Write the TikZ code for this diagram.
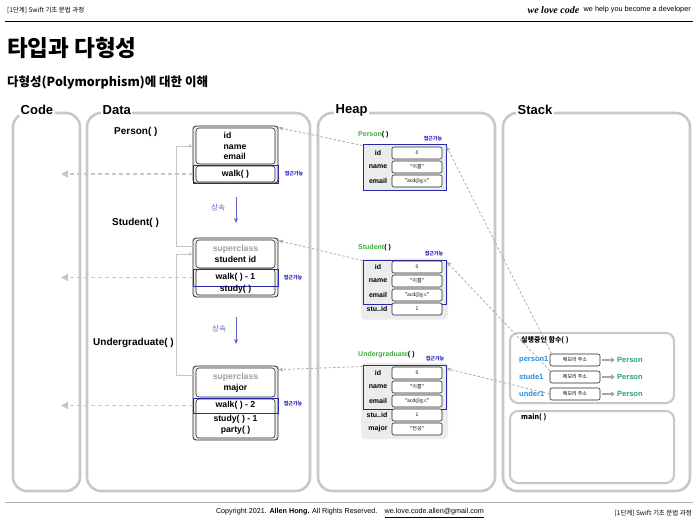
\documentclass[tikz,border=0pt]{standalone}
\usepackage{fontspec}
\setmainfont{Liberation Sans}
\newfontfamily\kr{Noto Sans CJK KR}
\newfontfamily\wlc{Liberation Serif}
\usetikzlibrary{arrows.meta,calc}
\definecolor{colgray}{RGB}{200,200,200}
\definecolor{navyb}{RGB}{40,40,170}
\definecolor{accblue}{RGB}{40,40,190}
\definecolor{inhblue}{RGB}{95,95,215}
\definecolor{hgreen}{RGB}{60,175,60}
\definecolor{varblue}{RGB}{40,140,220}
\definecolor{tealp}{RGB}{40,160,130}
\begin{document}
\begin{tikzpicture}[x=1pt,y=-1pt,
  col/.style={draw=colgray,line width=2.6pt,rounded corners=14pt},
  scol/.style={draw=colgray,line width=2pt,rounded corners=8pt},
  collab/.style={font=\fontsize{13}{15}\selectfont\bfseries,anchor=west,fill=white,inner sep=1.5pt},
  clslab/.style={font=\fontsize{10}{12}\selectfont\bfseries,anchor=west,inner sep=0pt},
  outerbox/.style={draw=black!85,fill=gray!15,line width=0.8pt,rounded corners=3pt,minimum width=85pt,inner sep=0pt},
  innerbox/.style={draw=black!85,fill=white,line width=0.6pt,rounded corners=3pt,minimum width=79pt,inner sep=0pt},
  walkbox/.style={draw=navyb,line width=1pt,minimum width=85pt,inner sep=0pt,font=\fontsize{8.7}{10}\selectfont\bfseries},
  btxt/.style={font=\fontsize{8.7}{10.5}\selectfont\bfseries,inner sep=0pt,align=center},
  acc/.style={font=\kr\fontsize{5}{6}\selectfont\bfseries,text=accblue,inner sep=0pt},
  inh/.style={draw=inhblue,line width=0.9pt,-{Stealth[length=5pt,width=4pt]}},
  inhlab/.style={font=\kr\fontsize{7.5}{9}\selectfont,text=inhblue,inner sep=0pt},
  supline/.style={draw=gray!45,line width=0.9pt,-{Stealth[length=4pt,width=4pt]}},
  codearr/.style={draw=gray!45,line width=1.3pt,dash pattern=on 4pt off 3pt,-{Triangle[length=7pt,width=7pt]}},
  harr/.style={draw=gray!65,line width=0.8pt,dash pattern=on 2.5pt off 2pt,-{Stealth[length=5pt,width=4pt]}},
  heapbg/.style={fill=gray!15,rounded corners=4pt,minimum width=87pt,inner sep=0pt},
  heapbox/.style={draw=navyb,line width=1pt,minimum width=83pt,inner sep=0pt},
  hlab/.style={font=\fontsize{7}{8}\selectfont\bfseries,inner sep=0pt},
  hval/.style={draw=black!85,fill=white,line width=0.6pt,rounded corners=2pt,minimum width=50pt,minimum height=12pt,inner sep=0pt,font=\kr\fontsize{5}{6}\selectfont},
  greenlab/.style={font=\fontsize{7}{8}\selectfont\bfseries,anchor=west,inner sep=0pt},
  svar/.style={font=\fontsize{7.5}{9}\selectfont\bfseries,text=varblue,anchor=west,inner sep=0pt},
  saddr/.style={draw=black!85,fill=white,line width=0.6pt,rounded corners=2pt,minimum width=50pt,minimum height=12pt,inner sep=0pt,font=\kr\fontsize{5}{6}\selectfont},
  parr/.style={draw=gray!70,line width=1.3pt,-{Triangle[length=4pt,width=5pt]}},
  ptype/.style={font=\fontsize{7.5}{9}\selectfont\bfseries,text=tealp,anchor=west,inner sep=0pt},
  slab/.style={font=\kr\fontsize{7}{8}\selectfont\bfseries,anchor=west,inner sep=0pt}
]
\useasboundingbox (0,0) rectangle (698,519);
\fill[white] (0,0) rectangle (698,519);

% header
\node[anchor=west,font=\kr\fontsize{6.5}{8}\selectfont,inner sep=0pt] (hdl) at (7,10) {[1단계] Swift 기초 문법 과정};
\node[anchor=east,font=\fontsize{7.3}{9}\selectfont,inner sep=0pt] (hdr) at (691,10) {we help you become a developer};
\node[anchor=east,font=\wlc\fontsize{10}{12}\selectfont\bfseries\itshape,inner sep=0pt] (wlc) at ([xshift=-4pt]hdr.west) {we love code};
\draw[line width=1pt] (5,22) -- (693,22);

% titles
\node[anchor=west,font=\kr\fontsize{22.5}{26}\selectfont\bfseries,inner sep=0pt] (title) at (7,48) {타입과 다형성};
\node[anchor=west,font=\kr\fontsize{12.5}{15}\selectfont\bfseries,inner sep=0pt] (sub) at (7,83) {다형성(Polymorphism)에 대한 이해};

% columns
\draw[col] (13,113) rectangle (80,491);
\draw[col] (87,113) rectangle (310,491);
\draw[col] (318,113) rectangle (495,491);
\draw[col] (503,113) rectangle (690,491);
\node[collab] (lcode) at (19,110) {Code};
\node[collab] (ldata) at (101,110) {Data};
\node[collab] (lheap) at (334,110) {Heap};
\node[collab] (lstack) at (516,110) {Stack};

% ---------- Data ----------
\node[clslab] (lp) at (114,132) {Person( )};
\node[clslab] (ls) at (112,223) {Student( )};
\node[clslab] (lu) at (93,343) {Undergraduate( )};

% Person
\node[outerbox,minimum height=57pt] (pbox) at (235.5,154.5) {};
\node[innerbox,minimum height=36pt] (ptop) at (235.5,146) {};
\node[btxt,align=left] (ptxt) at (235,146) {id\\name\\email};
\node[innerbox,minimum height=16pt] (plow) at (235.5,174) {};
\node[walkbox,minimum height=18pt] (pwalk) at (235.5,174) {walk( )};
\node[acc] (pacc) at (294,174) {접근가능};

% Student
\node[outerbox,minimum height=59pt] (sbox) at (235.5,267.5) {};
\node[innerbox,minimum height=28pt] (stop) at (235.5,254) {};
\node[btxt] (stxt) at (235.5,254) {\textcolor{gray!75}{superclass}\\student id};
\node[innerbox,minimum height=26pt] (slow) at (235.5,282) {};
\node[walkbox,minimum height=17pt] (swalk) at (235.5,277.5) {walk( ) - 1};
\node[btxt] (sstudy) at (235.5,289.5) {study( )};
\node[acc] (sacc) at (293,278) {접근가능};

% Undergraduate
\node[outerbox,minimum height=74pt] (ubox) at (235.5,403) {};
\node[innerbox,minimum height=29pt] (utop) at (235.5,382.5) {};
\node[btxt] (utxt) at (235.5,382.5) {\textcolor{gray!75}{superclass}\\major};
\node[innerbox,minimum height=39pt] (ulow) at (235.5,418.5) {};
\node[walkbox,minimum height=15pt] (uwalk) at (235.5,405.5) {walk( ) - 2};
\node[btxt] (ustudy) at (235.5,419) {study( ) - 1};
\node[btxt] (uparty) at (235.5,430.5) {party( )};
\node[acc] (uacc) at (293,404) {접근가능};

% superclass links
\draw[supline] ([yshift=-9pt]sbox.north west) -- ++(-16,0) |- (pbox.west |- ptop.west);
\draw[supline] ([yshift=-10pt]ubox.north west) -- ++(-16,0) |- (sbox.west |- stop.west);

% inheritance arrows
\coordinate (i1a) at (236,197); \coordinate (i1b) at (236,223);
\coordinate (i2a) at (236,317); \coordinate (i2b) at (236,344);
\draw[inh] (i1a) -- (i1b);
\draw[inh] (i2a) -- (i2b);
\node[inhlab] (inh1) at (218,208) {상속};
\node[inhlab] (inh2) at (219,329) {상속};

% arrows to code
\coordinate (c1) at (61,174);
\coordinate (c2) at (61,277.5);
\coordinate (c3) at (61,405.5);
\draw[codearr] (pwalk.west) -- (c1);
\draw[codearr] (swalk.west) -- (c2);
\draw[codearr] (uwalk.west) -- (c3);

% ---------- Heap ----------
% Person
\node[greenlab] (hpl) at (358,135) {\textcolor{hgreen}{Person}( )};
\node[acc] (hpacc) at (433,139) {접근가능};
\node[heapbox,fill=gray!15,minimum height=46pt] (hb1) at (404.5,167) {};
\node[hlab] at (378,153) {id};   \node[hval] (p1v1) at (417,153) {0};
\node[hlab] at (378,167) {name}; \node[hval] (p1v2) at (417,167) {"이름"};
\node[hlab] at (378,181) {email};\node[hval] (p1v3) at (417,181) {"acd@g.c"};

% Student
\node[greenlab] (hsl) at (358,248) {\textcolor{hgreen}{Student}( )};
\node[acc] (hsacc) at (434,254) {접근가능};
\node[heapbg,minimum height=61pt] (hbg2) at (404.5,289) {};
\node[heapbox,minimum height=44pt] (hb2) at (404.5,282) {};
\node[hlab] at (378,267) {id};    \node[hval] at (417,267) {0};
\node[hlab] at (378,281) {name};  \node[hval] at (417,281) {"이름"};
\node[hlab] at (378,295) {email}; \node[hval] at (417,295) {"acd@g.c"};
\node[hlab] at (377,309) {stu..id}; \node[hval] at (417,309) {1};

% Undergraduate
\node[greenlab] (hul) at (358,355) {\textcolor{hgreen}{Undergraduate}( )};
\node[acc] (huacc) at (435,359) {접근가능};
\node[heapbg,minimum height=76pt] (hbg3) at (404.5,401) {};
\node[heapbox,minimum height=44pt] (hb3) at (404.5,387) {};
\node[hlab] at (378,373) {id};    \node[hval] at (417,373) {0};
\node[hlab] at (378,387) {name};  \node[hval] at (417,387) {"이름"};
\node[hlab] at (378,401) {email}; \node[hval] at (417,401) {"acd@g.c"};
\node[hlab] at (377,415) {stu..id}; \node[hval] at (417,415) {1};
\node[hlab] at (378,429) {major}; \node[hval] at (417,429) {"전공"};

% heap -> data
\draw[harr] ([yshift=-2pt]hb1.north west) -- ([yshift=-2pt]pbox.north east);
\draw[harr] ([yshift=-1pt]hb2.north west) -- ([yshift=-3pt]sbox.north east);
\draw[harr] ([yshift=-2pt]hb3.north west) -- ([yshift=-4pt]ubox.north east);

% ---------- Stack ----------
\draw[scol] (510,333) rectangle (674,403);
\draw[scol] (510,411) rectangle (674,483);
\node[slab] (exec) at (521,340) {실행중인 함수( )};
\node[slab] (mainl) at (521,417) {main( )};

\node[svar] (v1) at (519,360) {person1};
\node[svar] (v2) at (519,377) {stude1};
\node[svar] (v3) at (519,394) {under1};
\node[saddr] (pa) at (575,360) {메모리 주소};
\node[saddr] (sa) at (575,377) {메모리 주소};
\node[saddr] (ua) at (575,394) {메모리 주소};
\node[ptype] (t1) at (617,360) {Person};
\node[ptype] (t2) at (617,377) {Person};
\node[ptype] (t3) at (617,394) {Person};
\draw[parr] (pa.east) ++(2,0) -- ([xshift=-2pt]t1.west);
\draw[parr] (sa.east) ++(2,0) -- ([xshift=-2pt]t2.west);
\draw[parr] (ua.east) ++(2,0) -- ([xshift=-2pt]t3.west);

% stack -> heap
\draw[harr] ([xshift=2pt]pa.north west) -- ([yshift=-3pt]hb1.north east);
\draw[harr] (sa.north west) -- ([yshift=-2pt]hb2.north east);
\draw[harr] (ua.west) -- ([yshift=-4pt]hb3.north east);

% footer
\draw[gray!60,line width=0.8pt] (5,502) -- (693,502);
\node[font=\fontsize{7.2}{8.5}\selectfont,inner sep=0pt] (copy) at (350,513) {Copyright 2021. \textbf{Allen Hong.} All Rights Reserved.\quad\underline{we.love.code.allen@gmail.com}};
\node[anchor=east,font=\kr\fontsize{6.5}{8}\selectfont,inner sep=0pt] (ftr) at (692,513) {[1단계] Swift 기초 문법 과정};
\end{tikzpicture}
\end{document}
